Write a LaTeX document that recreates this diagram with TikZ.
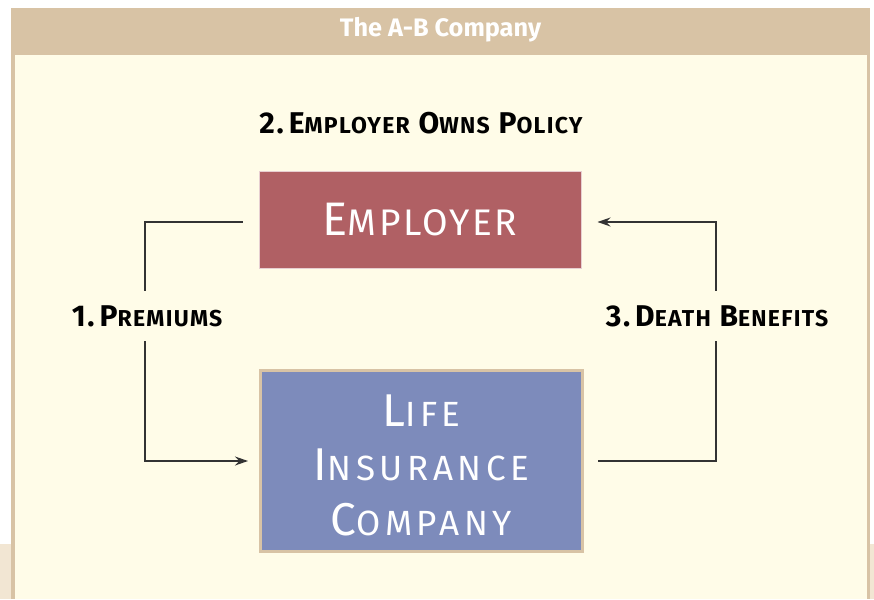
\documentclass[tikz,border=0pt]{standalone}
\usepackage{fontspec}
\setmainfont{Fira Sans}
\newfontfamily\boxfont[LetterSpace=7]{Fira Sans}
\newfontfamily\insfont[LetterSpace=13]{Fira Sans}
\newfontfamily\lblfont[LetterSpace=5.5]{Fira Sans}
\usetikzlibrary{arrows.meta}
\definecolor{tanc}{HTML}{D8C3A5}
\definecolor{creamc}{HTML}{FFFCE8}
\definecolor{beigec}{HTML}{F2E6D3}
\definecolor{redc}{HTML}{B06064}
\definecolor{bluec}{HTML}{7D8BBB}
\definecolor{linec}{HTML}{333333}
\newcommand{\bigA}{\fontsize{47}{54}\selectfont}
\newcommand{\smA}{\fontsize{37}{54}\selectfont}
\newcommand{\bigC}{\fontsize{46}{54.5}\selectfont}
\newcommand{\smC}{\fontsize{35}{54.5}\selectfont}
\newcommand{\bigB}{\fontsize{30}{30}\selectfont}
\newcommand{\smB}{\fontsize{23}{30}\selectfont}
\tikzset{
  box/.style={minimum width=#1, inner sep=0pt, text=white, align=center},
  lbl/.style={inner sep=0pt, minimum height=50pt, text=black, font=\lblfont\bfseries},
  conn/.style={draw=linec, line width=1.3pt},
  tip/.style={-{Stealth[length=13pt,width=9pt]}}
}
\begin{document}
\begin{tikzpicture}[x=1pt,y=-1pt]
\useasboundingbox (0,0) rectangle (874,599);
\fill[white] (0,0) rectangle (874,599);
\fill[beigec] (0,544) rectangle (874,599);
\fill[tanc] (11,8) rectangle (869.5,599);
\fill[creamc] (14.5,55.5) rectangle (866.5,599);
\node[text=white, font=\fontsize{25.3}{26}\selectfont\bfseries] (title) at (440.5,30) {The A-B Company};
\node[lbl] (owns) at (421,123) {\bigB 2.\,E{\smB MPLOYER} O{\smB WNS} P{\smB OLICY}};
\node[box=322pt, minimum height=97pt, fill=redc, draw=white!70!redc, line width=1pt, font=\boxfont\bigA] (emp) at (420,219.5) {E{\smA MPLOYER}};
\node[box=322pt, minimum height=181pt, fill=bluec, draw=tanc, line width=3pt] (ins) at (421.5,461) {};
\node[box=300pt, font=\insfont\bigC] (instxt) at ([yshift=-4pt]ins.center) {L{\smC IFE}\\I{\smC NSURANCE}\\C{\smC OMPANY}};
\node[lbl] (prem) at (147,316) {\bigB 1.\,P{\smB REMIUMS}};
\node[lbl] (death) at (717,316) {\bigB 3.\,D{\smB EATH} B{\smB ENEFITS}};
\draw[conn, shorten <=16pt] ([yshift=-2.5pt]emp.west) -| ([xshift=-2pt]prem.north);
\draw[conn, tip, shorten >=11pt] ([xshift=-2pt]prem.south) |- (ins.west);
\draw[conn, shorten <=14pt] (ins.east) -| ([xshift=-1pt]death.south);
\draw[conn, tip, shorten >=16pt] ([xshift=-1pt]death.north) |- ([yshift=-2.5pt]emp.east);
\end{tikzpicture}
\end{document}
